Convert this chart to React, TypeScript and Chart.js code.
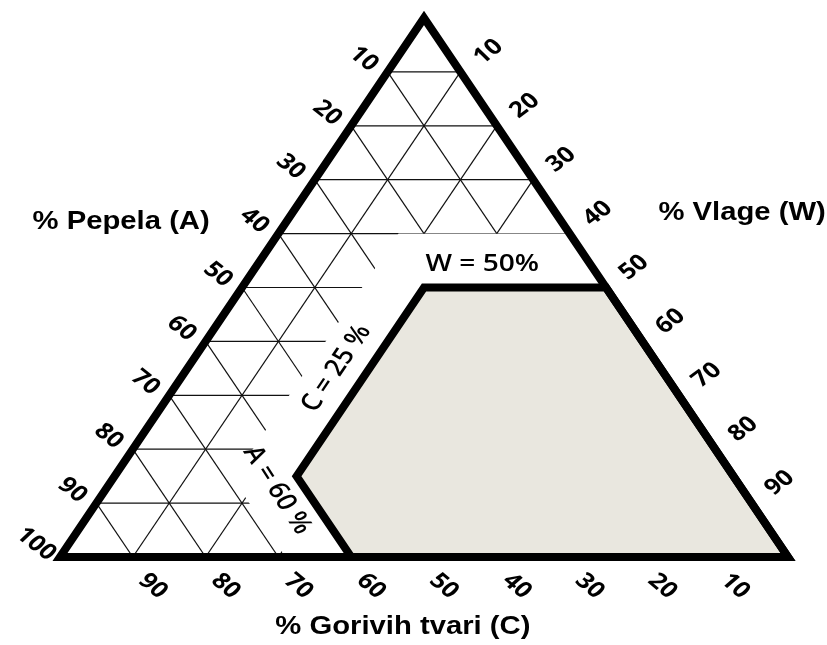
import React, { useEffect, useRef } from 'react';
import { Chart, registerables } from 'chart.js';

Chart.register(...registerables);

// ---- data ----
const gridSteps = [10, 20, 30, 40, 50, 60, 70, 80, 90];
const leftTicks = [10, 20, 30, 40, 50, 60, 70, 80, 90, 100];
const rightTicks = [10, 20, 30, 40, 50, 60, 70, 80, 90];
const bottomTicks = [90, 80, 70, 60, 50, 40, 30, 20, 10];
const limitW = 50; // moisture limit
const limitC = 25; // combustibles limit
const limitA = 60; // ash limit
const axisTitles = ['% Pepela (A)', '% Vlage (W)', '% Gorivih tvari (C)'];
const limitLabels = ['W = 50%', 'C = 25 %', 'A = 60 %'];

// ---- geometry helpers (x: 0..100 along base, y: 0..100 height) ----
type P = { x: number; y: number };
const yOfW = (w: number) => 100 - w;
const onC = (c: number, y: number): P => ({ x: c + y / 2, y });
const onA = (a: number, y: number): P => ({ x: 100 - a - y / 2, y });
const leftEdge = (y: number): P => ({ x: y / 2, y });
const rightEdge = (y: number): P => ({ x: 100 - y / 2, y });

const yW = yOfW(limitW);
const yCA = 100 - limitA - limitC;
const zone: P[] = [
  onC(limitC, yW),
  rightEdge(yW),
  { x: 100, y: 0 },
  onA(limitA, 0),
  onC(limitC, yCA),
  onC(limitC, yW),
  rightEdge(yW),
];
const triangle: P[] = [
  { x: 0, y: 0 },
  { x: 100, y: 0 },
  { x: 50, y: 100 },
  { x: 0, y: 0 },
  { x: 100, y: 0 },
];

const gridLines: P[][] = [];
gridSteps.forEach((h) => gridLines.push([leftEdge(h), rightEdge(h)]));
gridSteps.forEach((k) => gridLines.push([{ x: k, y: 0 }, { x: (100 + k) / 2, y: 100 - k }]));
gridSteps.forEach((k) => gridLines.push([{ x: k, y: 0 }, { x: k / 2, y: k }]));

// region of the grid that was kept (grid erased around the zone)
const GAP_C = 8.5;
const GAP_A = 9;
const cEdge = limitC - GAP_C;
const aEdge = 100 - limitA - GAP_A;
const topCut = yOfW(limitW - 10);
const gridClip: P[] = [
  { x: -20, y: -5 },
  { x: aEdge + 2.5, y: -5 },
  { x: (aEdge + cEdge) / 2, y: aEdge - cEdge },
  { x: cEdge + topCut / 2, y: topCut },
  { x: 120, y: topCut },
  { x: 120, y: 120 },
  { x: -20, y: 120 },
];

const STRETCH = 1.17;
function drawLabel(ctx: CanvasRenderingContext2D, text: string, x: number, y: number, font: string, angleDeg = 0, stretch = STRETCH) {
  const t = Math.tan((angleDeg * Math.PI) / 180);
  const a = Math.atan(stretch * t);
  ctx.save();
  ctx.translate(x, y);
  ctx.scale(stretch, 1);
  ctx.rotate(a);
  ctx.font = font;
  ctx.fillStyle = '#000';
  ctx.textAlign = 'center';
  ctx.textBaseline = 'middle';
  ctx.fillText(text, 0, 0);
  ctx.restore();
}

const clipPlugin = {
  id: 'gridClip',
  beforeDatasetDraw(chart: any, args: any) {
    const ds = chart.data.datasets[args.index];
    if (!ds.label || !String(ds.label).startsWith('grid')) return;
    const { ctx, scales } = chart;
    ctx.save();
    ctx.beginPath();
    gridClip.forEach((p, i) => {
      const px = scales.x.getPixelForValue(p.x);
      const py = scales.y.getPixelForValue(p.y);
      if (i === 0) ctx.moveTo(px, py);
      else ctx.lineTo(px, py);
    });
    ctx.closePath();
    ctx.clip();
  },
  afterDatasetDraw(chart: any, args: any) {
    const ds = chart.data.datasets[args.index];
    if (!ds.label || !String(ds.label).startsWith('grid')) return;
    chart.ctx.restore();
  },
};

const textPlugin = {
  id: 'ternaryText',
  afterDatasetsDraw(chart: any) {
    const { ctx, scales } = chart;
    const X = (v: number) => scales.x.getPixelForValue(v);
    const Y = (v: number) => scales.y.getPixelForValue(v);
    const tickFont = 'bold 22px "Open Sans"';
    leftTicks.forEach((w) => {
      const p = leftEdge(yOfW(w));
      drawLabel(ctx, String(w), X(p.x) - 24, Y(p.y) - 13, tickFont, 38);
    });
    rightTicks.forEach((w) => {
      const p = rightEdge(yOfW(w));
      drawLabel(ctx, String(w), X(p.x) + 28, Y(p.y) - 20, tickFont, -37);
    });
    bottomTicks.forEach((v) => {
      drawLabel(ctx, String(v), X(100 - v) + 20, Y(0) + 29, tickFont, 40);
    });
    const titleFont = 'bold 25px "Liberation Sans", Arial, sans-serif';
    drawLabel(ctx, axisTitles[0], X(8.4), Y(62.2), titleFont);
    drawLabel(ctx, axisTitles[1], X(93.7), Y(63.8), titleFont);
    drawLabel(ctx, axisTitles[2], X(47.1), Y(-13), titleFont);

    const limFont = '600 24px "Open Sans"';
    const pw = onC(limitC, yW);
    drawLabel(ctx, limitLabels[0], X(pw.x + 8), Y(pw.y) - 23, limFont);
    const pc = onC(limitC, 35);
    drawLabel(ctx, limitLabels[1], X(pc.x) - 33, Y(pc.y), limFont, -56);
    const pa = onA(limitA, 12.4);
    drawLabel(ctx, limitLabels[2], X(pa.x) - 29, Y(pa.y), limFont, 57);
  },
};

export default function App() {
  const ref = useRef<HTMLCanvasElement | null>(null);
  useEffect(() => {
    if (!ref.current) return;
    const line = (label: string, data: P[], extra: any = {}) => ({
      label,
      data,
      showLine: true,
      pointRadius: 0,
      pointHoverRadius: 0,
      borderColor: '#000',
      borderWidth: 1,
      tension: 0,
      fill: false,
      ...extra,
    });
    const datasets: any[] = [
      line('triangle', triangle, { borderWidth: 8, borderJoinStyle: 'miter', order: 0, clip: false }),
      line('zone', zone, {
        borderWidth: 8,
        borderJoinStyle: 'miter',
        fill: 'shape',
        backgroundColor: '#E9E7DF',
        order: 1,
        clip: false,
      }),
      ...gridLines.map((g, i) => line('grid' + i, g, { borderColor: '#111', borderWidth: 1.2, order: 2 })),
    ];
    const chart = new Chart(ref.current, {
      type: 'scatter',
      data: { datasets },
      options: {
        animation: false,
        responsive: true,
        maintainAspectRatio: false,
        layout: { padding: { left: 60, right: 39, top: 18, bottom: 88 } },
        scales: {
          x: { type: 'linear', min: 0, max: 100, display: false },
          y: { type: 'linear', min: 0, max: 100, display: false },
        },
        plugins: { legend: { display: false }, tooltip: { enabled: false }, title: { display: false } },
        events: [],
      },
      plugins: [clipPlugin, textPlugin],
    });
    return () => chart.destroy();
  }, []);
  return (
    <div style={{ position: 'fixed', left: 0, top: 0, width: 827, height: 645, background: '#fff' }}>
      <canvas ref={ref} />
    </div>
  );
}
